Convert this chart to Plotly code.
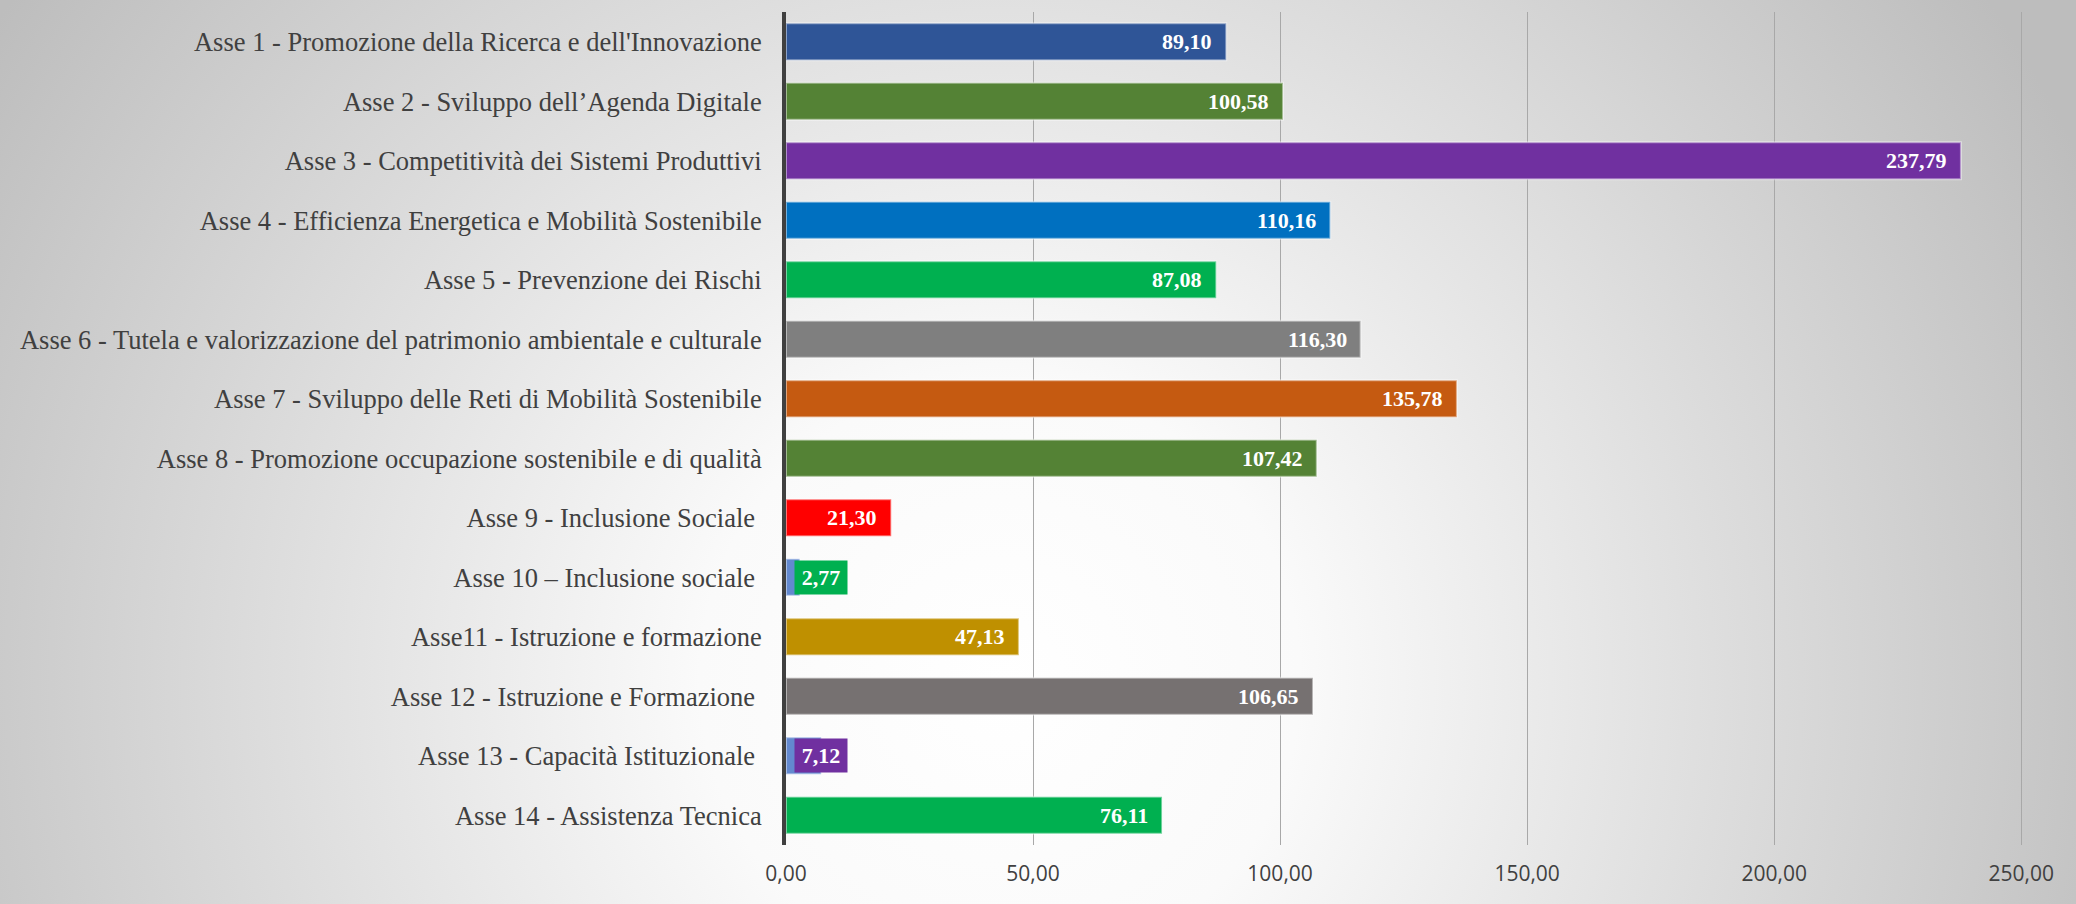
import base64
import plotly.graph_objects as go

categories = [
    "Asse 1 - Promozione della Ricerca e dell'Innovazione",
    "Asse 2 - Sviluppo dell\u2019Agenda Digitale",
    "Asse 3 - Competitivit\u00e0 dei Sistemi Produttivi",
    "Asse 4 - Efficienza Energetica e Mobilit\u00e0 Sostenibile",
    "Asse 5 - Prevenzione dei Rischi",
    "Asse 6 - Tutela e valorizzazione del patrimonio ambientale e culturale",
    "Asse 7 - Sviluppo delle Reti di Mobilit\u00e0 Sostenibile",
    "Asse 8 - Promozione occupazione sostenibile e di qualit\u00e0",
    "Asse 9 - Inclusione Sociale\u00a0",
    "Asse 10 \u2013 Inclusione sociale\u00a0",
    "Asse11 - Istruzione e formazione",
    "Asse 12 - Istruzione e Formazione\u00a0",
    "Asse 13 - Capacit\u00e0 Istituzionale\u00a0",
    "Asse 14 - Assistenza Tecnica",
]
values = [89.10, 100.58, 237.79, 110.16, 87.08, 116.30, 135.78, 107.42,
          21.30, 2.77, 47.13, 106.65, 7.12, 76.11]
value_labels = ["89,10", "100,58", "237,79", "110,16", "87,08", "116,30", "135,78",
                "107,42", "21,30", "2,77", "47,13", "106,65", "7,12", "76,11"]
bar_colors = ["#2F5597", "#548235", "#7030A0", "#0070C0", "#00B050", "#7F7F7F",
              "#C55A11", "#548235", "#FF0000", "#6389CF", "#BF9000", "#767171",
              "#6389CF", "#00B050"]
# label box colours for small bars (None = label inside bar)
label_boxes = [None, None, None, None, None, None, None, None, None,
               "#00B050", None, None, "#7030A0", None]

tick_vals = [0, 50, 100, 150, 200, 250]
tick_text = ["0,00", "50,00", "100,00", "150,00", "200,00", "250,00"]

W, H = 2076, 904
L, R, T, B = 786, 35, 12, 59
pw, ph = W - L - R, H - T - B

svg = (
    f'<svg xmlns="http://www.w3.org/2000/svg" width="{W}" height="{H}" viewBox="0 0 {W} {H}" preserveAspectRatio="none">'
    '<defs><radialGradient id="g" cx="1000" cy="680" r="1200" gradientUnits="userSpaceOnUse">'
    '<stop offset="0" stop-color="#ffffff"/><stop offset="0.25" stop-color="#fafafa"/>'
    '<stop offset="1" stop-color="#bdbdbd"/></radialGradient></defs>'
    f'<rect width="{W}" height="{H}" fill="url(#g)"/></svg>'
)
src = "data:image/svg+xml;base64," + base64.b64encode(svg.encode()).decode()

fig = go.Figure()
fig.add_trace(go.Bar(
    y=categories, x=values, orientation="h",
    marker=dict(color=bar_colors, line=dict(color="rgba(255,255,255,0.45)", width=2)),
    hoverinfo="skip",
))

annotations = []
for cat, v, lab, box in zip(categories, values, value_labels, label_boxes):
    if box is None:
        annotations.append(dict(
            x=v, y=cat, xref="x", yref="y", text=f"<b>{lab}</b>", showarrow=False,
            xanchor="right", xshift=-12,
            font=dict(family="Liberation Serif", size=22, color="white"),
        ))
    else:
        annotations.append(dict(
            x=0, y=cat, xref="x", yref="y", text=f"<b>{lab}</b>", showarrow=False,
            xanchor="left", xshift=8, bgcolor=box, borderpad=3,
            width=46, height=27,
            font=dict(family="Liberation Serif", size=22, color="white"),
        ))

fig.update_layout(
    width=W, height=H,
    margin=dict(l=L, r=R, t=T, b=B, pad=0),
    paper_bgcolor="white", plot_bgcolor="rgba(0,0,0,0)",
    showlegend=False, bargap=0.38,
    annotations=annotations,
    images=[dict(source=src, xref="paper", yref="paper",
                 x=-L / pw, y=1 + T / ph, sizex=W / pw, sizey=H / ph,
                 xanchor="left", yanchor="top", sizing="stretch", layer="below")],
    xaxis=dict(range=[0, 254], tickvals=tick_vals, ticktext=tick_text,
               showgrid=True, gridcolor="#a8a8a8", gridwidth=1.3,
               zeroline=False, showline=False, ticks="",
               ticklabelstandoff=14,
               tickfont=dict(family="Open Sans", size=21, color="#404040")),
    yaxis=dict(categoryorder="array", categoryarray=categories, autorange="reversed",
               showgrid=False, zeroline=False, showline=True, linecolor="#404040",
               linewidth=4, ticks="", ticklabelstandoff=15,
               tickfont=dict(family="Liberation Serif", size=26.5, color="#404040")),
)

fig.write_html("out.html")
